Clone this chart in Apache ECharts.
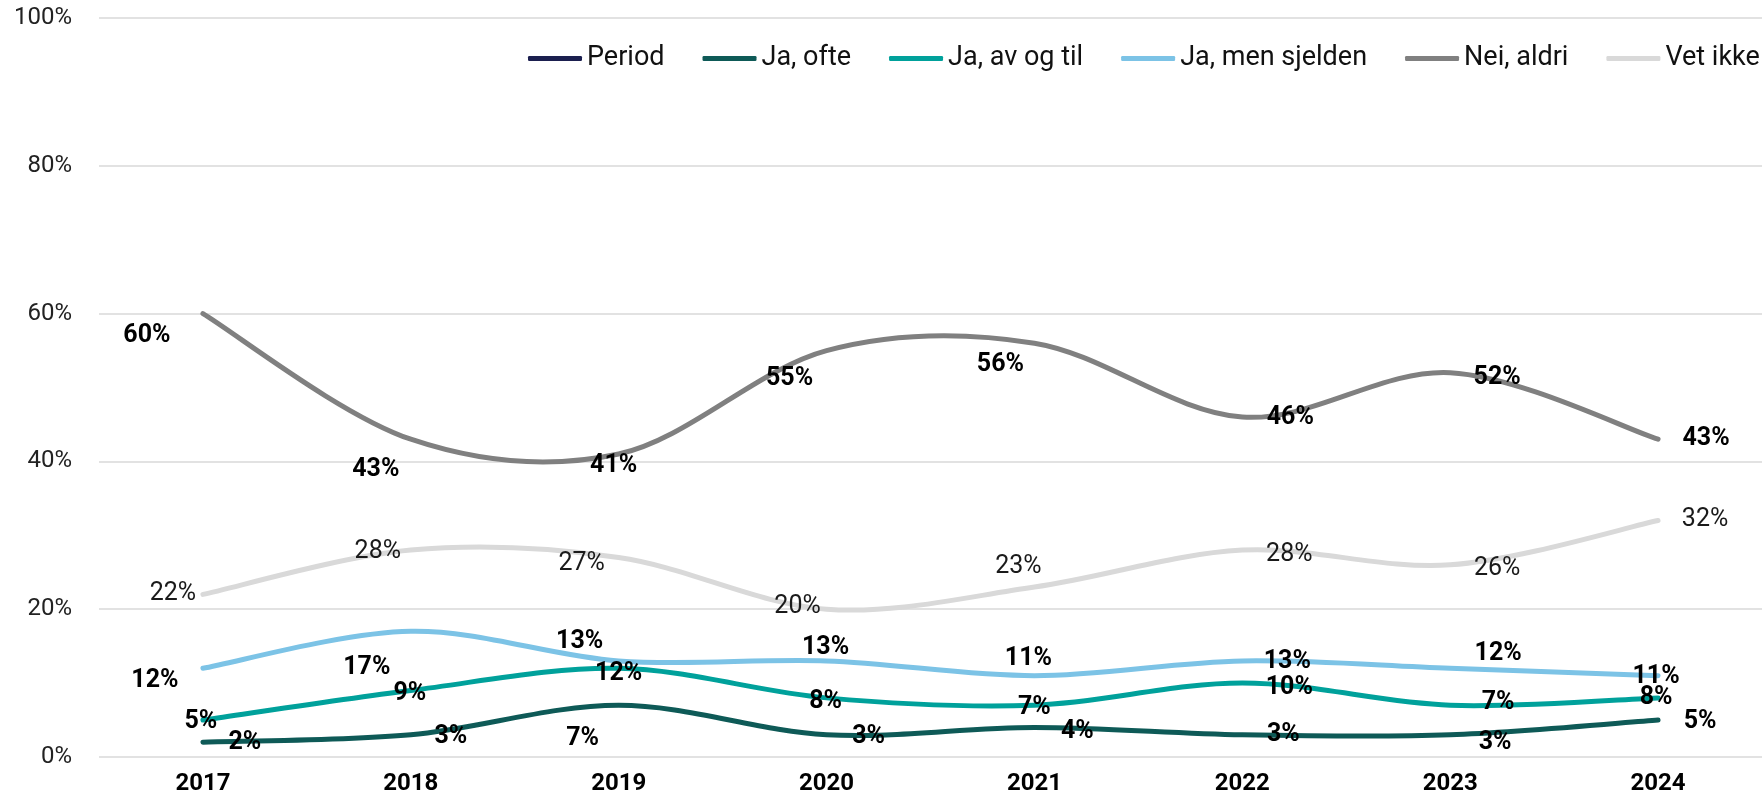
<!DOCTYPE html>
<html>
<head>
<meta charset="utf-8">
<script src="https://cdn.jsdelivr.net/npm/echarts@6/dist/echarts.min.js"></script>
<style>
  html, body { margin: 0; padding: 0; background: #fff; }
  #chart { width: 1762px; height: 800px; }
</style>
</head>
<body>
<div id="chart"></div>
<script>
const years = ['2017', '2018', '2019', '2020', '2021', '2022', '2023', '2024']
const yTicks = [0, 20, 40, 60, 80, 100]
const period = []
const jaOfte = [2, 3, 7, 3, 4, 3, 3, 5]
const jaAvOgTil = [5, 9, 12, 8, 7, 10, 7, 8]
const jaSjelden = [12, 17, 13, 13, 11, 13, 12, 11]
const neiAldri = [60, 43, 41, 55, 56, 46, 52, 43]
const vetIkke = [22, 28, 27, 20, 23, 28, 26, 32]

// where each value label sits relative to its point (px)
const labelShift = {
  ofte: [[42, 1], [40, 2], [-36, 33], [42, 2], [43, 4], [41, 0], [45, 8], [42, 2]],
  avOgTil: [[-2, 2], [-1, 3], [0, 5], [-1, 4], [0, 2], [47, 5], [48, -3], [-2, 0]],
  sjelden: [[-48, 12], [-44, 36], [-39, -19], [-1, -13], [-6, -17], [45, 1], [48, -15], [-2, 1]],
  aldri: [[-56, 22], [-35, 31], [-5, 12], [-37, 28], [-34, 22], [48, 1], [47, 5], [48, 0]],
  vet: [[-30, -1], [-33, 2], [-37, 6], [-29, -2], [-16, -20], [47, 5], [47, 4], [47, -1]]
}

const font = 'Roboto'

// Excel-like smoothing: catmull-rom turned into bezier segments,
// points come from the axes through api.coord
function smoothPath (values, api) {
  const pts = values.map((v, i) => api.coord([i, v]))
  let d = 'M' + pts[0][0] + ' ' + pts[0][1]
  for (let i = 0; i < pts.length - 1; i++) {
    const p0 = pts[Math.max(i - 1, 0)]
    const p1 = pts[i]
    const p2 = pts[i + 1]
    const p3 = pts[Math.min(i + 2, pts.length - 1)]
    const c1x = p1[0] + (p2[0] - p0[0]) / 6
    const c1y = p1[1] + (p2[1] - p0[1]) / 6
    const c2x = p2[0] - (p3[0] - p1[0]) / 6
    const c2y = p2[1] - (p3[1] - p1[1]) / 6
    d += ' C' + c1x + ' ' + c1y + ' ' + c2x + ' ' + c2y + ' ' + p2[0] + ' ' + p2[1]
  }
  return d
}

function curveSeries (color, values) {
  return {
    type: 'custom',
    z: 1,
    silent: true,
    data: [[0, values[0]]],
    renderItem: (params, api) => ({
      type: 'path',
      shape: { pathData: smoothPath(values, api) },
      style: { fill: 'none', stroke: color, lineWidth: 5, lineCap: 'round', lineJoin: 'round' }
    })
  }
}

function labelSeries (name, color, values, shifts, bold) {
  return {
    name: name,
    type: 'line',
    z: 3,
    symbol: 'circle',
    symbolSize: 1,
    showSymbol: true,
    color: color,
    lineStyle: { width: 0, opacity: 0 },
    itemStyle: { color: color },
    label: {
      show: true,
      position: 'inside',
      formatter: '{c}%',
      fontFamily: font,
      fontSize: 25,
      fontWeight: bold ? 'bold' : 'normal',
      color: bold ? '#000' : '#1a1a1a'
    },
    emphasis: { disabled: true },
    data: values.map((v, i) => ({ value: v, label: { offset: shifts[i] } }))
  }
}

const lines = [
  ['Ja, ofte', '#0e5a57', jaOfte, labelShift.ofte, true],
  ['Ja, av og til', '#00a19b', jaAvOgTil, labelShift.avOgTil, true],
  ['Ja, men sjelden', '#7cc3e6', jaSjelden, labelShift.sjelden, true],
  ['Nei, aldri', '#808080', neiAldri, labelShift.aldri, true],
  ['Vet ikke', '#d9d9d9', vetIkke, labelShift.vet, false]
]

const series = [
  { name: 'Period', type: 'line', color: '#1b1f4f', itemStyle: { color: '#1b1f4f' }, data: period }
]
lines.forEach(l => series.push(curveSeries(l[1], l[2])))
lines.forEach(l => series.push(labelSeries(l[0], l[1], l[2], l[3], l[4])))

const chart = echarts.init(document.getElementById('chart'))
chart.setOption({
  animation: false,
  backgroundColor: '#fff',
  grid: { left: 99, top: 18, width: 1672, height: 739 },
  legend: {
    left: 523,
    top: 40,
    width: 3000,
    icon: 'roundRect',
    itemWidth: 54,
    itemHeight: 5,
    itemGap: 38,
    textStyle: { fontFamily: font, fontSize: 27, color: '#111' },
    data: ['Period', 'Ja, ofte', 'Ja, av og til', 'Ja, men sjelden', 'Nei, aldri', 'Vet ikke']
  },
  xAxis: {
    type: 'category',
    data: years,
    boundaryGap: true,
    axisLine: { show: false },
    axisTick: { show: false },
    axisLabel: {
      margin: 15,
      fontFamily: font,
      fontSize: 24,
      fontWeight: 'bold',
      color: '#000'
    }
  },
  yAxis: {
    type: 'value',
    min: yTicks[0],
    max: yTicks[yTicks.length - 1],
    interval: yTicks[1] - yTicks[0],
    axisLine: { show: false },
    axisTick: { show: false },
    splitLine: { lineStyle: { color: '#d9d9d9', width: 1.5 } },
    axisLabel: {
      margin: 27,
      formatter: '{value}%',
      fontFamily: font,
      fontSize: 24,
      color: '#222'
    }
  },
  series: series
})
</script>
</body>
</html>
